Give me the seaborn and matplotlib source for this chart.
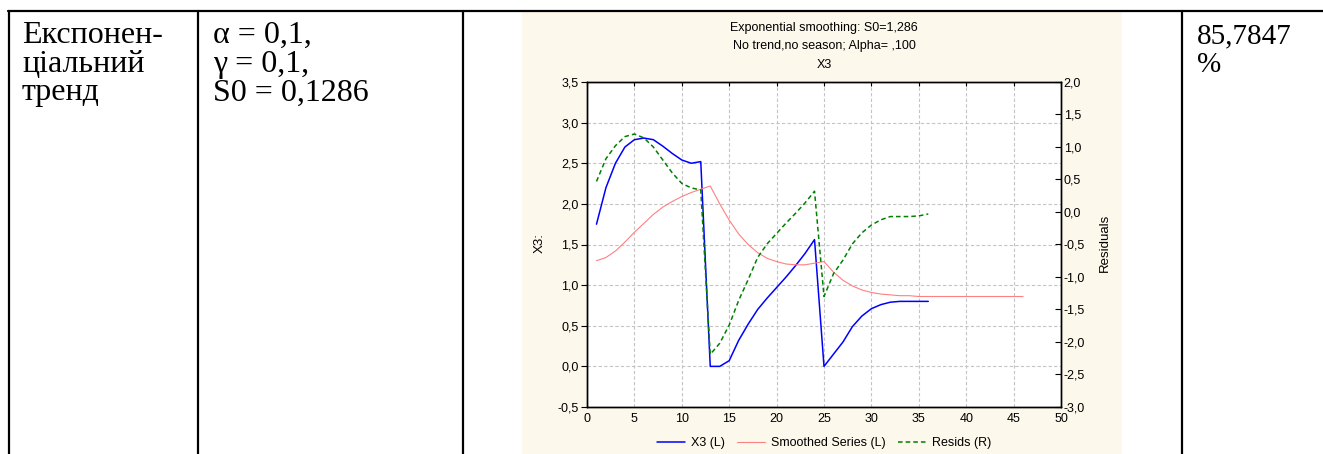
import matplotlib
matplotlib.use("Agg")
import matplotlib.pyplot as plt
import seaborn as sns
from matplotlib.lines import Line2D
from matplotlib.patches import Rectangle
from matplotlib.ticker import FuncFormatter

# ---- data ----
t_obs = list(range(1, 37))
x3 = [1.75, 2.20, 2.50, 2.70, 2.79, 2.81, 2.79, 2.71, 2.62, 2.54, 2.50, 2.52,
      0.00, 0.00, 0.07, 0.32, 0.52, 0.70, 0.84, 0.97, 1.10, 1.24, 1.39, 1.56,
      0.00, 0.15, 0.30, 0.49, 0.62, 0.71, 0.76, 0.79, 0.80, 0.80, 0.80, 0.80]

t_smooth = list(range(1, 47))
smoothed = [1.30, 1.34, 1.42, 1.53, 1.65, 1.76, 1.87, 1.96, 2.03, 2.09, 2.14, 2.18,
            2.22, 2.00, 1.80, 1.63, 1.50, 1.40, 1.33, 1.29, 1.26, 1.25, 1.25, 1.27,
            1.29, 1.16, 1.06, 0.99, 0.94, 0.91, 0.89, 0.88, 0.87, 0.87, 0.86, 0.86,
            0.86, 0.86, 0.86, 0.86, 0.86, 0.86, 0.86, 0.86, 0.86, 0.86]

resids = [0.47, 0.82, 1.02, 1.16, 1.20, 1.14, 1.00, 0.80, 0.60, 0.44, 0.37, 0.34,
          -2.19, -2.02, -1.74, -1.36, -1.04, -0.70, -0.49, -0.33, -0.17, -0.02, 0.14, 0.32,
          -1.30, -0.95, -0.74, -0.49, -0.32, -0.20, -0.12, -0.07, -0.07, -0.07, -0.06, -0.03]

left_ticks = [-0.5, 0.0, 0.5, 1.0, 1.5, 2.0, 2.5, 3.0, 3.5]
right_ticks = [-3.0, -2.5, -2.0, -1.5, -1.0, -0.5, 0.0, 0.5, 1.0, 1.5, 2.0]
x_ticks = [0, 5, 10, 15, 20, 25, 30, 35, 40, 45, 50]

title_lines = ["Exponential smoothing: S0=1,286",
               "No trend,no season; Alpha= ,100",
               "X3"]
legend_labels = ["X3 (L)", "Smoothed Series (L)", "Resids (R)"]

col1_lines = ["Експонен-", "ціальний", "тренд"]
col2_lines = ["α = 0,1,", "γ = 0,1,", "S0 = 0,1286"]
col4_lines = ["85,7847", "%"]

W, H = 1323, 454
sns.set_style("white")
plt.rcParams["font.family"] = ["Liberation Sans", "DejaVu Sans"]
for key in ["text.color", "axes.labelcolor", "xtick.color", "ytick.color"]:
    plt.rcParams[key] = "black"

fig = plt.figure(figsize=(W / 100, H / 100), dpi=100)
fig.patch.set_facecolor("white")


def fx(px):
    return px / W


def fy(py):
    return 1 - py / H


# cream panel behind the chart
fig.patches.append(Rectangle((fx(522), 0), fx(1122) - fx(522), fy(12),
                             transform=fig.transFigure, facecolor="#fdf8ec",
                             edgecolor="none", zorder=-5))

# table borders
fig.lines.append(Line2D([fx(8), 1], [fy(11), fy(11)], transform=fig.transFigure,
                        color="black", lw=1.6))
for xb in [9, 198, 463, 1182]:
    fig.lines.append(Line2D([fx(xb), fx(xb)], [fy(11), 0], transform=fig.transFigure,
                            color="black", lw=1.6))

# table text
serif = ["Liberation Serif", "DejaVu Serif"]
for x0, lines, fs in [(22, col1_lines, 23), (213, col2_lines, 23), (1197, col4_lines, 21)]:
    for i, s in enumerate(lines):
        fig.text(fx(x0), fy(43 + i * 28.7), s, family=serif, fontsize=fs,
                 va="baseline", ha="left")

# chart
ax = fig.add_axes([fx(587), fy(407), fx(1061) - fx(587), (407 - 82) / H])
ax.set_facecolor("white")
sns.lineplot(x=t_obs, y=x3, ax=ax, color="#0000ff", lw=1.1)
sns.lineplot(x=t_smooth, y=smoothed, ax=ax, color="#ff8080", lw=0.8)
ax.set_xlim(0, 50)
ax.set_ylim(-0.5, 3.5)
ax.set_xticks(x_ticks)
ax.set_yticks(left_ticks)
ax.grid(True, color="#c4c4c4", ls=(0, (3, 2)), lw=0.8)
ax.set_axisbelow(True)

ax2 = ax.twinx()
sns.lineplot(x=t_obs, y=resids, ax=ax2, color="#008000", lw=1.1, ls=(0, (3, 2)))
ax2.set_ylim(-3.0, 2.0)
ax2.set_yticks(right_ticks)

comma = FuncFormatter(lambda v, p: f"{v:.1f}".replace(".", ","))
ax.yaxis.set_major_formatter(comma)
ax2.yaxis.set_major_formatter(comma)
ax.xaxis.set_major_formatter(FuncFormatter(lambda v, p: f"{v:.0f}"))

for a in (ax, ax2):
    for sp in a.spines.values():
        sp.set_color("black")
        sp.set_linewidth(1.0)
ax.tick_params(axis="x", direction="in", top=True, length=3, labelsize=9, pad=4)
ax.tick_params(axis="y", direction="out", length=4, labelsize=9, pad=2)
ax2.tick_params(axis="y", direction="in", length=4, labelsize=9, pad=2)
ax.set_xlabel("")
ax.set_ylabel("")
ax2.set_ylabel("")

fig.text(fx(540), fy(243), "X3:", rotation=90, fontsize=9.5, ha="center", va="center")
fig.text(fx(1105), fy(243), "Residuals", rotation=90, fontsize=9.5, ha="center", va="center")

for i, s in enumerate(title_lines):
    fig.text(fx(824), fy(28 + i * 18.5), s, fontsize=9, ha="center", va="center")

handles = [Line2D([], [], color="#0000ff", lw=1.1),
           Line2D([], [], color="#ff8080", lw=0.8),
           Line2D([], [], color="#008000", lw=1.1, ls=(0, (3, 2)))]
fig.legend(handles, legend_labels, loc="center", bbox_to_anchor=(fx(824), fy(443)),
           ncol=3, frameon=False, fontsize=9, handlelength=2.2, columnspacing=1.0,
           handletextpad=0.5)

fig.savefig("out.png", dpi=100)
